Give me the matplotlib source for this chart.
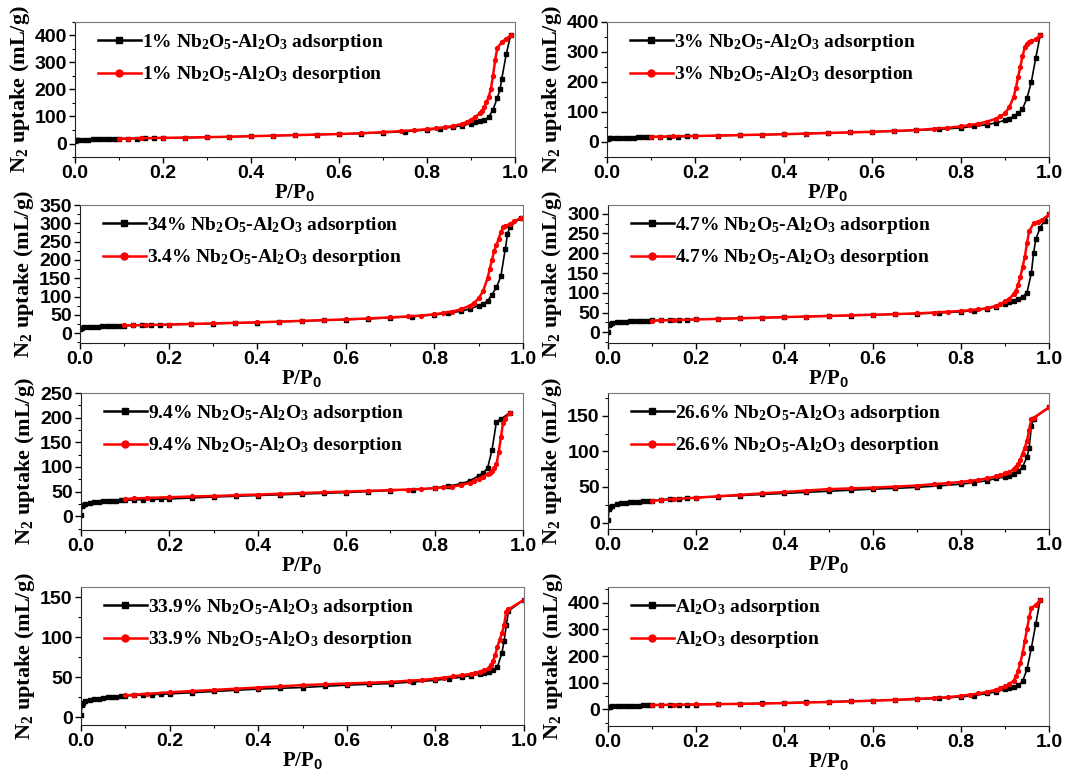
import matplotlib

matplotlib.use("Agg")
import matplotlib.pyplot as plt
from matplotlib.lines import Line2D
from matplotlib.ticker import MultipleLocator

plt.rcParams["font.family"] = ["Liberation Serif", "DejaVu Serif"]
plt.rcParams["font.weight"] = "bold"
plt.rcParams["mathtext.fontset"] = "custom"
plt.rcParams["mathtext.rm"] = "Liberation Serif:bold"
plt.rcParams["mathtext.bf"] = "Liberation Serif:bold"
plt.rcParams["mathtext.it"] = "Liberation Serif:bold:italic"
plt.rcParams["mathtext.sf"] = "Liberation Sans:bold"
plt.rcParams["mathtext.default"] = "rm"

# --- shared relative-pressure grids (P/P0) ---
ADS_P = [0.0005, 0.002, 0.005, 0.01,
         0.02, 0.03, 0.04, 0.05, 0.06, 0.07, 0.08, 0.09, 0.10,
         0.12, 0.14, 0.16, 0.18, 0.20,
         0.25, 0.30, 0.35, 0.40, 0.45, 0.50, 0.55, 0.60, 0.65, 0.70, 0.75, 0.80,
         0.83, 0.86, 0.88, 0.90, 0.91, 0.92, 0.93, 0.94, 0.95]
DES_P = [0.94, 0.935, 0.93, 0.925, 0.92, 0.91, 0.90, 0.89, 0.88, 0.86,
         0.84, 0.82, 0.80, 0.77, 0.74, 0.70, 0.65, 0.60, 0.55, 0.50,
         0.45, 0.40, 0.35, 0.30, 0.25, 0.20, 0.15, 0.12, 0.10]

# --- 1% Nb2O5-Al2O3 ---
ads_v_1 = [10, 12, 13, 13.5,
           14, 14.5, 15, 15.5, 16, 16.5, 17, 17, 17.5,
           18, 18.5, 19, 19.5, 20,
           21.5, 23, 25, 27, 29, 31, 33, 35, 37, 40, 44, 50,
           55, 61, 66, 74, 78, 82, 88, 97, 125]
ads_tail_p_1 = [0.96, 0.966, 0.97, 0.98, 0.99]
ads_tail_v_1 = [170, 200, 240, 330, 400]
des_top_p_1 = [0.99, 0.98, 0.97, 0.96, 0.955, 0.95, 0.945]
des_top_v_1 = [400, 388, 375, 355, 310, 250, 200]
des_v_1 = [172, 152, 135, 122, 112, 98, 88, 80, 73, 65,
           60, 56, 53, 49, 46, 42, 38, 35, 33, 31,
           29, 27, 25, 23.5, 22, 21, 19.5, 18.5, 18]

# --- 3% Nb2O5-Al2O3 ---
ads_v_2 = [10, 11, 12, 12.5,
           13, 13.5, 14, 14.5, 15, 15.5, 16, 16, 16.5,
           17, 17.5, 18, 18.5, 19,
           21, 22.5, 24, 26, 28, 30, 32, 34, 36, 39, 42, 47,
           52, 58, 64, 72, 78, 86, 95, 110, 145]
ads_tail_p_2 = [0.96, 0.97, 0.98]
ads_tail_v_2 = [200, 280, 355]
des_top_p_2 = [0.98, 0.97, 0.96, 0.955, 0.95, 0.945]
des_top_v_2 = [355, 342, 335, 332, 328, 315]
des_v_2 = [285, 250, 215, 180, 150, 115, 95, 85, 78, 68,
           61, 56, 52, 47, 44, 40, 37, 34, 32, 30,
           28, 26, 24.5, 23, 21.5, 20, 19, 18, 17.5]

# --- 34% / 3.4% Nb2O5-Al2O3 ---
ads_v_3 = [12, 14, 15, 16,
           17, 17.5, 18, 18.5, 19, 19.5, 20, 20, 20.5,
           21, 21.5, 22, 22.5, 23,
           24.5, 26, 27.5, 29, 31, 33, 35, 37, 39, 42, 45, 50,
           54, 60, 66, 75, 80, 88, 105, 125, 155]
ads_tail_p_3 = [0.96, 0.965, 0.97, 0.995]
ads_tail_v_3 = [230, 270, 290, 315]
des_top_p_3 = [0.995, 0.98, 0.97, 0.96, 0.955, 0.95, 0.945]
des_top_v_3 = [315, 305, 298, 293, 290, 275, 258]
des_v_3 = [240, 225, 200, 175, 150, 115, 95, 83, 75, 65,
           59, 55, 51.5, 48, 45.5, 43, 40, 37.5, 35.5, 33.5,
           31.5, 29.5, 28, 26.5, 25, 23.5, 22, 21.5, 21]

# --- 4.7% Nb2O5-Al2O3 ---
ads_v_4 = [2, 18, 21, 23,
           25, 26, 27, 27.5, 28, 28.5, 29, 29.5, 30,
           30.5, 31, 31.5, 32, 33,
           34.5, 36, 37, 38, 39.5, 41, 42.5, 44, 45.5, 47, 49, 52,
           55, 60, 65, 72, 76, 80, 85, 90, 100]
ads_tail_p_4 = [0.96, 0.965, 0.97, 0.98, 0.99, 1.0]
ads_tail_v_4 = [150, 200, 235, 265, 282, 298]
des_top_p_4 = [1.0, 0.985, 0.975, 0.965, 0.955, 0.95, 0.945]
des_top_v_4 = [298, 285, 280, 276, 255, 225, 190]
des_v_4 = [165, 140, 120, 105, 97, 85, 78, 72, 67, 61,
           58, 56, 54, 52, 50, 48, 46, 44.5, 43, 41.5,
           40, 38.5, 37, 35.5, 34, 32.5, 31, 30, 29.5]

# --- 9.4% Nb2O5-Al2O3 ---
ads_v_5 = [2, 20, 23, 25,
           27, 28, 29, 30, 30.5, 31, 31.5, 32, 32.5,
           33, 33.5, 34, 34.5, 35,
           37, 39, 40.5, 42, 43.5, 45, 46.5, 48, 50, 52, 54, 57,
           61, 66, 72, 82, 88, 98, 135, 192, 197]
ads_tail_p_5 = [0.97]
ads_tail_v_5 = [210]
des_top_p_5 = [0.97, 0.96, 0.955, 0.95, 0.945]
des_top_v_5 = [210, 198, 190, 160, 130]
des_v_5 = [105, 97, 92, 88, 85, 80, 76, 72, 68, 63,
           60, 58.5, 57, 55, 54, 53, 51.5, 50, 48.5, 47,
           45.5, 44, 42.5, 41, 40, 38.5, 37, 36, 35]

# --- 26.6% Nb2O5-Al2O3 ---
ads_v_6 = [3, 19, 22, 24,
           26, 27, 28, 28.5, 29, 29.5, 30, 30.5, 31,
           32, 33, 33.5, 34, 35,
           36.5, 38, 39.5, 41, 42.5, 44, 45.5, 47, 48, 49.5, 51.5, 54,
           56, 59, 62, 64, 66, 68, 72, 78, 92]
ads_tail_p_6 = [0.955, 0.96, 0.965, 1.0]
ads_tail_v_6 = [105, 135, 146, 162]
des_top_p_6 = [1.0, 0.965, 0.96, 0.955, 0.95, 0.945]
des_top_v_6 = [162, 147, 145, 130, 115, 105]
des_v_6 = [97, 88, 82, 78, 75, 71, 69, 67, 65, 62,
           60, 58.5, 57, 55.5, 54, 52, 50.5, 49, 48, 47,
           45, 43, 41, 39, 37, 35, 33, 31.5, 30.5]

# --- 33.9% Nb2O5-Al2O3 ---
ads_v_7 = [2, 15, 18, 19.5,
           21, 22, 23, 24, 24.5, 25, 25.5, 26, 26.5,
           27, 27.5, 28, 28.5, 29,
           30.5, 32, 33.5, 35, 36, 37, 38.5, 40, 41, 42, 44, 46,
           48, 50, 52, 54, 55.5, 57, 59, 63, 80]
ads_tail_p_7 = [0.955, 0.96, 0.965, 1.0]
ads_tail_v_7 = [95, 115, 133, 147]
des_top_p_7 = [1.0, 0.965, 0.96, 0.955, 0.95, 0.945]
des_top_v_7 = [147, 135, 132, 115, 105, 97]
des_v_7 = [88, 78, 70, 65, 61, 59, 57, 55, 54, 52.5,
           51, 49.5, 48, 46.5, 45.5, 44, 43, 42, 41, 40,
           38.5, 37, 35.5, 34, 32.5, 31, 29, 28, 27]

# --- Al2O3 ---
ads_v_8 = [9, 10, 11, 11.5,
           12, 12.5, 13, 13.5, 14, 14.5, 15, 15, 15.5,
           16, 16.5, 17, 17.5, 18,
           20, 21.5, 23, 25, 27, 29, 31, 33, 35, 38, 42, 47,
           52, 60, 66, 75, 80, 85, 90, 105, 150]
ads_tail_p_8 = [0.96, 0.97, 0.98]
ads_tail_v_8 = [230, 320, 410]
des_top_p_8 = [0.98, 0.97, 0.96, 0.955, 0.95, 0.945]
des_top_v_8 = [410, 392, 380, 345, 300, 255]
des_v_8 = [210, 175, 145, 125, 108, 95, 87, 80, 74, 66,
           60, 55, 51, 46, 43, 40, 36, 33, 30, 28,
           26, 24, 22, 21, 20, 19, 17.5, 17, 16.5]

NB = r"Nb$_2$O$_5$-Al$_2$O$_3$"
ads_labels = ["1% " + NB, "3% " + NB, "34% " + NB, "4.7% " + NB,
              "9.4% " + NB, "26.6% " + NB, "33.9% " + NB, r"Al$_2$O$_3$"]
des_labels = ["1% " + NB, "3% " + NB, "3.4% " + NB, "4.7% " + NB,
              "9.4% " + NB, "26.6% " + NB, "33.9% " + NB, r"Al$_2$O$_3$"]
y_limits = [(-50, 450), (-50, 400), (-27, 350), (-27, 322),
            (-28, 250), (-9, 182), (-10, 163), (-62, 459)]
y_major = [100, 100, 50, 50, 50, 50, 50, 100]
y_top_tick = [400, 400, 350, 300, 250, 150, 150, 400]

ads_v = [ads_v_1, ads_v_2, ads_v_3, ads_v_4, ads_v_5, ads_v_6, ads_v_7, ads_v_8]
ads_tail_p = [ads_tail_p_1, ads_tail_p_2, ads_tail_p_3, ads_tail_p_4,
              ads_tail_p_5, ads_tail_p_6, ads_tail_p_7, ads_tail_p_8]
ads_tail_v = [ads_tail_v_1, ads_tail_v_2, ads_tail_v_3, ads_tail_v_4,
              ads_tail_v_5, ads_tail_v_6, ads_tail_v_7, ads_tail_v_8]
des_top_p = [des_top_p_1, des_top_p_2, des_top_p_3, des_top_p_4,
             des_top_p_5, des_top_p_6, des_top_p_7, des_top_p_8]
des_top_v = [des_top_v_1, des_top_v_2, des_top_v_3, des_top_v_4,
             des_top_v_5, des_top_v_6, des_top_v_7, des_top_v_8]
des_v = [des_v_1, des_v_2, des_v_3, des_v_4, des_v_5, des_v_6, des_v_7, des_v_8]

# axes boxes in pixels: left, right, top, bottom
W, H = 1065, 771
boxes = [(75, 515, 22, 157), (607, 1049, 22, 157),
         (80, 523, 205, 343), (608, 1049, 205, 343),
         (81, 523, 393, 530), (608, 1049, 393, 529),
         (81, 524, 587, 725), (608, 1049, 587, 726)]

fig = plt.figure(figsize=(W / 100, H / 100), dpi=100)

for i in range(8):
    l, r, t, b = boxes[i]
    ax = fig.add_axes([l / W, 1 - b / H, (r - l) / W, (b - t) / H])

    ax.plot(ADS_P + ads_tail_p[i], ads_v[i] + ads_tail_v[i], color="black",
            marker="s", markersize=2.5, linewidth=1.2)
    ax.plot(des_top_p[i] + DES_P, des_top_v[i] + des_v[i], color="red",
            marker="o", markersize=2.8, linewidth=1.8)

    ax.set_xlim(0, 1.0)
    ax.set_ylim(*y_limits[i])
    xt = [0.0, 0.2, 0.4, 0.6, 0.8, 1.0]
    ax.set_xticks(xt, labels=[f"{v:.1f}" for v in xt], fontfamily="Liberation Sans",
                  fontsize=14, fontweight="bold")
    ax.xaxis.set_minor_locator(MultipleLocator(0.1))
    step = y_major[i]
    yt = list(range(0, y_top_tick[i] + 1, step))
    ax.set_yticks(yt, labels=[str(v) for v in yt], fontfamily="Liberation Sans",
                  fontsize=14, fontweight="bold")
    ax.yaxis.set_minor_locator(MultipleLocator(step / 2))
    ax.tick_params(which="major", direction="out", length=4, width=1, pad=2)
    ax.tick_params(which="minor", direction="out", length=2.5, width=0.8)
    for side in ("top", "right"):
        ax.spines[side].set_color("#777777")
    for side in ("left", "bottom"):
        ax.spines[side].set_color("#222222")

    ax.set_xlabel(r"P/P$_\mathsf{0}$", fontsize=15, fontweight="bold", labelpad=0)
    ax.set_ylabel(r"N$_2$ uptake (mL/g)", fontsize=16, fontweight="bold", labelpad=2)

    handles = [
        Line2D([], [], color="black", marker="s", markersize=5, linewidth=1.8),
        Line2D([], [], color="red", marker="o", markersize=5, linewidth=1.8),
    ]
    ax.legend(handles, [ads_labels[i] + " adsorption", des_labels[i] + " desorption"],
              loc="upper left", bbox_to_anchor=(0.03, 1.0), frameon=False,
              fontsize=14, handlelength=2.2, handletextpad=0.05,
              labelspacing=0.6, borderaxespad=0.1)

fig.savefig("out.png", dpi=100)
